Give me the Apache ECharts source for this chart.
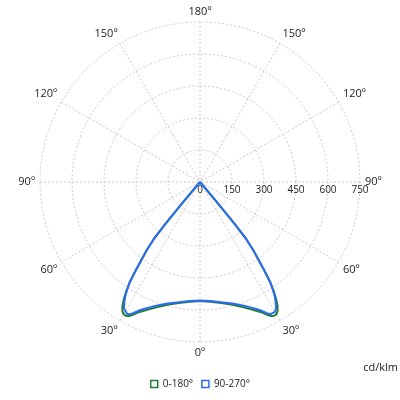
<!DOCTYPE html>
<html>
<head>
<meta charset="utf-8">
<script src="https://cdn.jsdelivr.net/npm/echarts@6/dist/echarts.min.js"></script>
<style>
    html, body { margin: 0; padding: 0; background: #fff; }
    #chart { width: 400px; height: 400px; }
</style>
</head>
<body>
<div id="chart"></div>
<script>
// Gamma angles (deg from nadir) and intensities in cd/klm, one half of each plane
const gammaAngles = [0, 5, 10, 15, 20, 25, 27, 28, 29, 30, 31, 32, 33, 34, 35, 36, 37, 38, 39, 39.5, 40, 40.5, 41, 45, 90, 135, 180];
const plane0_180 = [558, 563, 576, 596, 628, 672, 700, 712, 717, 716, 706, 686, 656, 618, 578, 515, 455, 405, 345, 255, 135, 42, 0, 0, 0, 0, 0];
const plane90_270 = [556, 560, 572, 590, 618, 662, 690, 702, 706, 703, 692, 670, 646, 612, 572, 512, 452, 402, 342, 252, 132, 40, 0, 0, 0, 0, 0];

const radiusTicks = [0, 150, 300, 450, 600, 750];
const seriesNames = ['0-180°', '90-270°'];
const seriesColors = ['#1f7a35', '#2b6cf2'];

// angle axis: 0 at 3 o'clock, clockwise, so nadir sits at value 90
function toAxisAngle(gamma, side) {
    const v = side < 0 ? 90 + gamma : 90 - gamma;
    return (v + 360) % 360;
}

function buildLoop(values) {
    const pts = [];
    // right half, from top down to nadir
    for (let i = gammaAngles.length - 1; i >= 0; i--) {
        pts.push([values[i], toAxisAngle(gammaAngles[i], 1)]);
    }
    // left half, from nadir back up
    for (let i = 1; i < gammaAngles.length; i++) {
        pts.push([values[i], toAxisAngle(gammaAngles[i], -1)]);
    }
    return pts;
}

function angleLabel(v) {
    let g = ((v - 90) % 360 + 360) % 360;
    if (g > 180) g = 360 - g;
    return g + 'º';
}

const chart = echarts.init(document.getElementById('chart'));

const gridLine = { show: true, lineStyle: { color: '#c8c8c8', type: [2, 2], width: 1 } };

chart.setOption({
    animation: false,
    textStyle: { fontFamily: 'Open Sans' },
    polar: { center: [200, 182], radius: 160 },
    angleAxis: {
        type: 'value',
        min: 0,
        max: 360,
        interval: 30,
        startAngle: 0,
        clockwise: true,
        axisLine: { show: false },
        axisTick: { show: false },
        splitLine: gridLine,
        axisLabel: {
            formatter: angleLabel,
            color: '#222',
            fontSize: 11,
            margin: 5
        }
    },
    radiusAxis: {
        type: 'value',
        min: radiusTicks[0],
        max: radiusTicks[radiusTicks.length - 1],
        interval: 150,
        axisLine: { show: false },
        axisTick: { show: false },
        splitLine: gridLine,
        axisLabel: {
            color: '#222',
            fontSize: 10,
            margin: -13
        }
    },
    legend: {
        bottom: 6,
        left: 'center',
        itemWidth: 7,
        itemHeight: 7,
        itemGap: 8,
        textStyle: { fontSize: 10, color: '#222' },
        data: seriesNames.map((n, i) => ({
            name: n,
            icon: 'rect',
            itemStyle: { color: '#fff', borderColor: seriesColors[i], borderWidth: 1.5 }
        }))
    },
    graphic: [{
        type: 'text',
        right: 2,
        top: 362,
        style: { text: 'cd/klm', fill: '#222', fontSize: 11, fontFamily: 'Open Sans' }
    }],
    series: [plane0_180, plane90_270].map((vals, i) => ({
        name: seriesNames[i],
        type: 'line',
        coordinateSystem: 'polar',
        showSymbol: false,
        smooth: false,
        lineStyle: { color: seriesColors[i], width: 2 },
        itemStyle: { color: seriesColors[i] },
        data: buildLoop(vals)
    }))
});
</script>
</body>
</html>
